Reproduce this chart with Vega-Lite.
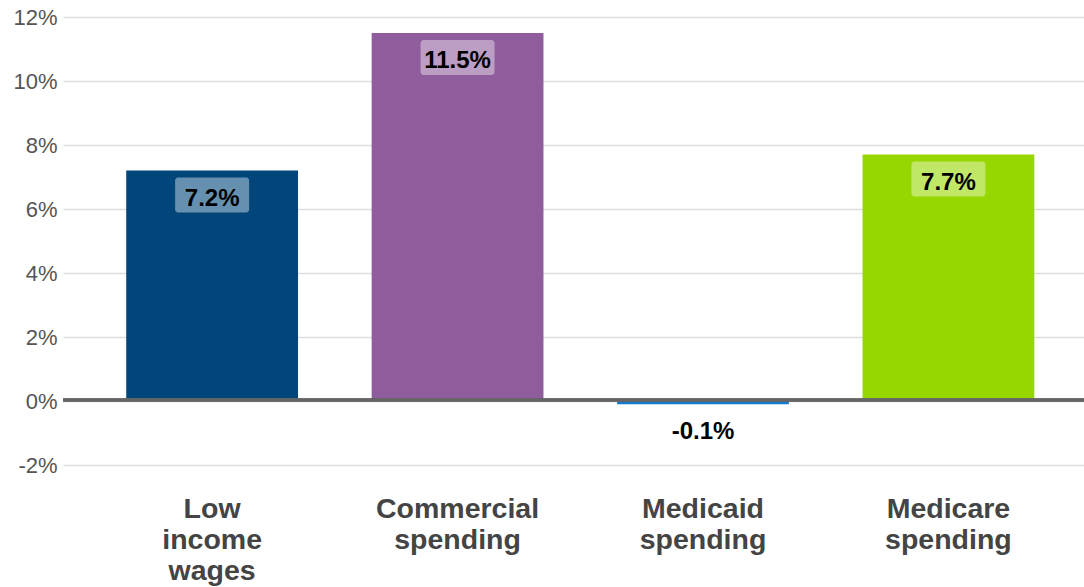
{
  "$schema": "https://vega.github.io/schema/vega-lite/v6.json",
  "width": 1021,
  "height": 448,
  "autosize": "none",
  "padding": {"left": 63, "top": 17, "right": 0, "bottom": 122},
  "background": "white",
  "config": {"view": {"stroke": null}, "font": "Liberation Sans"},
  "data": {
    "values": [
      {"category": "Low income wages", "value": 7.2, "label": "7.2%"},
      {"category": "Commercial spending", "value": 11.5, "label": "11.5%"},
      {"category": "Medicaid spending", "value": -0.1, "label": "-0.1%"},
      {"category": "Medicare spending", "value": 7.7, "label": "7.7%"}
    ]
  },
  "layer": [
    {
      "mark": {"type": "bar"},
      "encoding": {
        "x": {
          "field": "category",
          "type": "nominal",
          "sort": null,
          "scale": {"paddingInner": 0.3, "paddingOuter": 0.23, "align": 0.56},
          "axis": {
            "title": null,
            "domain": false,
            "ticks": false,
            "labelAngle": 0,
            "labelExpr": "split(datum.label, ' ')",
            "labelFont": "Liberation Sans",
            "labelFontSize": 28.5,
            "labelFontWeight": "bold",
            "labelColor": "#444444",
            "labelLineHeight": 31,
            "labelBaseline": "top",
            "labelPadding": 29
          }
        },
        "y": {
          "field": "value",
          "type": "quantitative",
          "scale": {"domain": [-2, 12], "nice": false, "zero": false},
          "axis": {
            "title": null,
            "values": [-2, -1, 0, 1, 2, 3, 4, 5, 6, 7, 8, 9, 10, 11, 12],
            "labelExpr": "datum.value % 2 == 0 ? datum.value + '%' : ''",
            "domain": false,
            "ticks": false,
            "grid": true,
            "gridColor": "#dddddd",
            "gridWidth": 1.5,
            "labelFont": "Liberation Sans",
            "labelFontSize": 22,
            "labelColor": "#555555",
            "labelPadding": 6
          }
        },
        "color": {
          "field": "category",
          "type": "nominal",
          "sort": null,
          "legend": null,
          "scale": {
            "domain": ["Low income wages", "Commercial spending", "Medicaid spending", "Medicare spending"],
            "range": ["#00467A", "#8F5C9C", "#1479CC", "#97D700"]
          }
        }
      }
    },
    {
      "mark": {"type": "rule", "color": "#666666", "strokeWidth": 3, "yOffset": -1},
      "encoding": {"y": {"datum": 0, "type": "quantitative"}}
    },
    {
      "transform": [{"filter": "datum.value > 0"}],
      "mark": {"type": "bar", "color": "white", "opacity": 0.4, "width": 74, "cornerRadius": 3, "yOffset": 7, "y2Offset": 42},
      "encoding": {
        "x": {"field": "category", "type": "nominal", "sort": null},
        "y": {"field": "value", "type": "quantitative"},
        "y2": {"field": "value"}
      }
    },
    {
      "mark": {"type": "text", "font": "Liberation Sans", "fontSize": 24, "fontWeight": "bold", "color": "black", "baseline": "middle", "dy": 28},
      "encoding": {
        "x": {"field": "category", "type": "nominal", "sort": null},
        "y": {"field": "value", "type": "quantitative"},
        "text": {"field": "label"}
      }
    }
  ]
}
